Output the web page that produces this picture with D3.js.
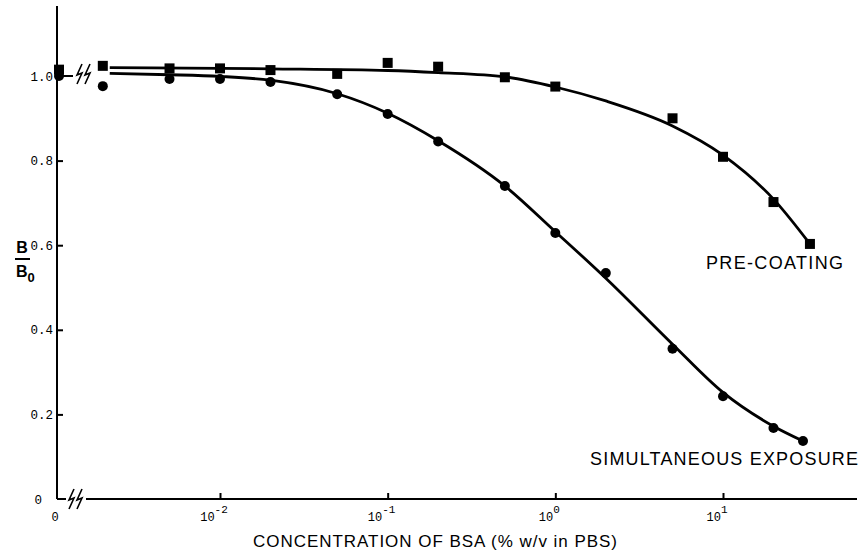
<!DOCTYPE html>
<html>
<head>
<meta charset="utf-8">
<script src="https://cdn.jsdelivr.net/npm/d3@7"></script>
<style>
  body { margin: 0; background: #fff; }
  svg { display: block; }
  .mono { font-family: "Liberation Mono", "DejaVu Sans Mono", monospace; }
  .sans { font-family: "Liberation Sans", Arial, sans-serif; }
</style>
</head>
<body>
<div id="chart"></div>
<script>
// measured points, simultaneous exposure (circles); 0 = no BSA
var simConc = [0, 0.002, 0.005, 0.01, 0.02, 0.05, 0.1, 0.2, 0.5, 1, 2, 5, 10, 20, 30];
var simB = [1.0, 0.976, 0.993, 0.993, 0.986, 0.957, 0.91, 0.845, 0.74, 0.629, 0.534, 0.355, 0.243, 0.168, 0.137];

// measured points, pre-coating (squares)
var preConc = [0, 0.002, 0.005, 0.01, 0.02, 0.05, 0.1, 0.2, 0.5, 1, 5, 10, 20, 33];
var preB = [1.015, 1.024, 1.018, 1.018, 1.014, 1.005, 1.031, 1.022, 0.997, 0.975, 0.90, 0.809, 0.702, 0.603];

// hand drawn fitted curves
var simFitConc = [0.0022, 0.005, 0.01, 0.02, 0.05, 0.1, 0.2, 0.5, 1, 2, 5, 10, 20, 30];
var simFitB = [1.006, 1.003, 0.999, 0.99, 0.958, 0.912, 0.847, 0.74, 0.632, 0.522, 0.366, 0.252, 0.172, 0.137];
var preFitConc = [0.0022, 0.02, 0.1, 0.2, 0.5, 1, 2, 5, 10, 20, 33];
var preFitB = [1.02, 1.017, 1.013, 1.008, 0.998, 0.974, 0.941, 0.882, 0.813, 0.709, 0.603];

var yTicks = [0, 0.2, 0.4, 0.6, 0.8, 1.0];
var yTickLabels = ["0", "0.2", "0.4", "0.6", "0.8", "1.0"];
var xTicks = [0.01, 0.1, 1, 10];
var xTickExp = ["-2", "-1", "0", "1"];

var width = 865, height = 552;
var originX = 57, originY = 499;

var svg = d3.select("#chart")
  .append("svg")
    .attr("width", width)
    .attr("height", height);

var x = d3.scaleLog()
  .domain([0.01, 10])
  .range([220, 723]);

var y = d3.scaleLinear()
  .domain([0, 1])
  .range([originY, 76]);

// concentration 0 sits on the y axis (broken x axis)
function xPos(c) { return c === 0 ? originX + 2 : x(c); }

// lightning-bolt axis break, two strokes
function breakMark(cx, cy) {
  var p = "";
  [0, 8].forEach(function(dx) {
    var a = cx + dx;
    p += "M" + (a + 5) + "," + (cy - 10) + "L" + a + "," + (cy + 1) +
         "L" + (a + 5) + "," + (cy - 1) + "L" + a + "," + (cy + 10);
  });
  return p;
}

// y axis
svg.append("line")
  .attr("x1", originX).attr("x2", originX)
  .attr("y1", 6).attr("y2", originY)
  .attr("stroke", "black").attr("stroke-width", 2);

var yAxis = svg.append("g")
  .attr("transform", "translate(" + originX + ",0)")
  .call(d3.axisLeft(y)
    .tickValues(yTicks)
    .tickSize(-6)
    .tickPadding(4)
    .tickFormat(function(d, i) { return yTickLabels[i]; }));
yAxis.select(".domain").remove();
yAxis.selectAll(".tick line")
  .attr("stroke-width", 2)
  .attr("display", function(d) { return d === 0 ? "none" : null; });
yAxis.selectAll(".tick text")
  .attr("class", "mono")
  .attr("font-size", 12.5)
  .attr("fill", "black")
  .attr("dx", function(d) { return d === 0 ? -11 : 0; });

// x axis with break near origin
svg.append("line")
  .attr("x1", originX).attr("x2", 66)
  .attr("y1", originY).attr("y2", originY)
  .attr("stroke", "black").attr("stroke-width", 2);
svg.append("line")
  .attr("x1", 86).attr("x2", 857)
  .attr("y1", originY).attr("y2", originY)
  .attr("stroke", "black").attr("stroke-width", 2);
svg.append("path")
  .attr("d", breakMark(69, originY))
  .attr("fill", "none").attr("stroke", "black").attr("stroke-width", 1.6);

var xAxis = svg.append("g")
  .attr("transform", "translate(0," + originY + ")")
  .call(d3.axisBottom(x)
    .tickValues(xTicks)
    .tickSize(-6)
    .tickFormat(""));
xAxis.select(".domain").remove();
xAxis.selectAll(".tick line").attr("stroke-width", 2);

var xLab = svg.append("g").attr("class", "mono").attr("fill", "black");
xLab.selectAll("text.dec")
  .data(xTicks)
  .enter()
  .append("text")
    .attr("class", "dec")
    .attr("x", function(d) { return x(d) - 6; })
    .attr("y", originY + 22)
    .attr("font-size", 12)
    .attr("text-anchor", "middle")
    .each(function(d, i) {
      var t = d3.select(this);
      t.append("tspan").text("10");
      t.append("tspan").attr("dy", -8).attr("font-size", 11).text(xTickExp[i]);
    });
xLab.append("text")
  .attr("x", originX - 2)
  .attr("y", originY + 22)
  .attr("font-size", 12)
  .attr("text-anchor", "middle")
  .text("0");

// break at the 1.0 level, next to the zero-concentration points
svg.append("line")
  .attr("x1", 62).attr("x2", 73)
  .attr("y1", y(1)).attr("y2", y(1))
  .attr("stroke", "black").attr("stroke-width", 2);
svg.append("path")
  .attr("d", breakMark(77, y(1) - 2))
  .attr("fill", "none").attr("stroke", "black").attr("stroke-width", 1.6);

// axis titles
svg.append("text")
  .attr("class", "sans")
  .attr("x", 435)
  .attr("y", 547)
  .attr("font-size", 17)
  .attr("text-anchor", "middle")
  .attr("textLength", 364)
  .attr("lengthAdjust", "spacing")
  .text("CONCENTRATION OF BSA (% w/v in PBS)");

var yl = svg.append("g").attr("class", "sans").attr("font-weight", "bold").attr("fill", "black");
yl.append("text").attr("x", 22).attr("y", 253).attr("font-size", 16).attr("text-anchor", "middle").text("B");
yl.append("line").attr("x1", 15).attr("x2", 30).attr("y1", 259).attr("y2", 259)
  .attr("stroke", "black").attr("stroke-width", 2);
var b0 = yl.append("text").attr("x", 16).attr("y", 277).attr("font-size", 16);
b0.append("tspan").text("B");
b0.append("tspan").attr("dy", 5).attr("font-size", 13).text("0");

// fitted curves
var line = d3.line()
  .curve(d3.curveMonotoneX)
  .x(function(d) { return x(d[0]); })
  .y(function(d) { return y(d[1]); });

svg.append("path")
  .datum(d3.zip(preFitConc, preFitB))
  .attr("fill", "none")
  .attr("stroke", "black")
  .attr("stroke-width", 2.8)
  .attr("d", line);

svg.append("path")
  .datum(d3.zip(simFitConc, simFitB))
  .attr("fill", "none")
  .attr("stroke", "black")
  .attr("stroke-width", 2.8)
  .attr("d", line);

// markers
svg.selectAll("rect.pre")
  .data(d3.zip(preConc, preB))
  .enter()
  .append("rect")
    .attr("class", "pre")
    .attr("x", function(d) { return xPos(d[0]) - 5; })
    .attr("y", function(d) { return y(d[1]) - 5; })
    .attr("width", 10)
    .attr("height", 10)
    .attr("fill", "black");

svg.selectAll("circle.sim")
  .data(d3.zip(simConc, simB))
  .enter()
  .append("circle")
    .attr("class", "sim")
    .attr("cx", function(d) { return xPos(d[0]); })
    .attr("cy", function(d) { return y(d[1]); })
    .attr("r", 5)
    .attr("fill", "black");

// series labels
svg.append("text")
  .attr("class", "sans")
  .attr("x", 706)
  .attr("y", 269)
  .attr("font-size", 18)
  .attr("textLength", 137)
  .attr("lengthAdjust", "spacing")
  .text("PRE-COATING");

svg.append("text")
  .attr("class", "sans")
  .attr("x", 590)
  .attr("y", 465)
  .attr("font-size", 18)
  .attr("textLength", 268)
  .attr("lengthAdjust", "spacing")
  .text("SIMULTANEOUS EXPOSURE");
</script>
</body>
</html>
